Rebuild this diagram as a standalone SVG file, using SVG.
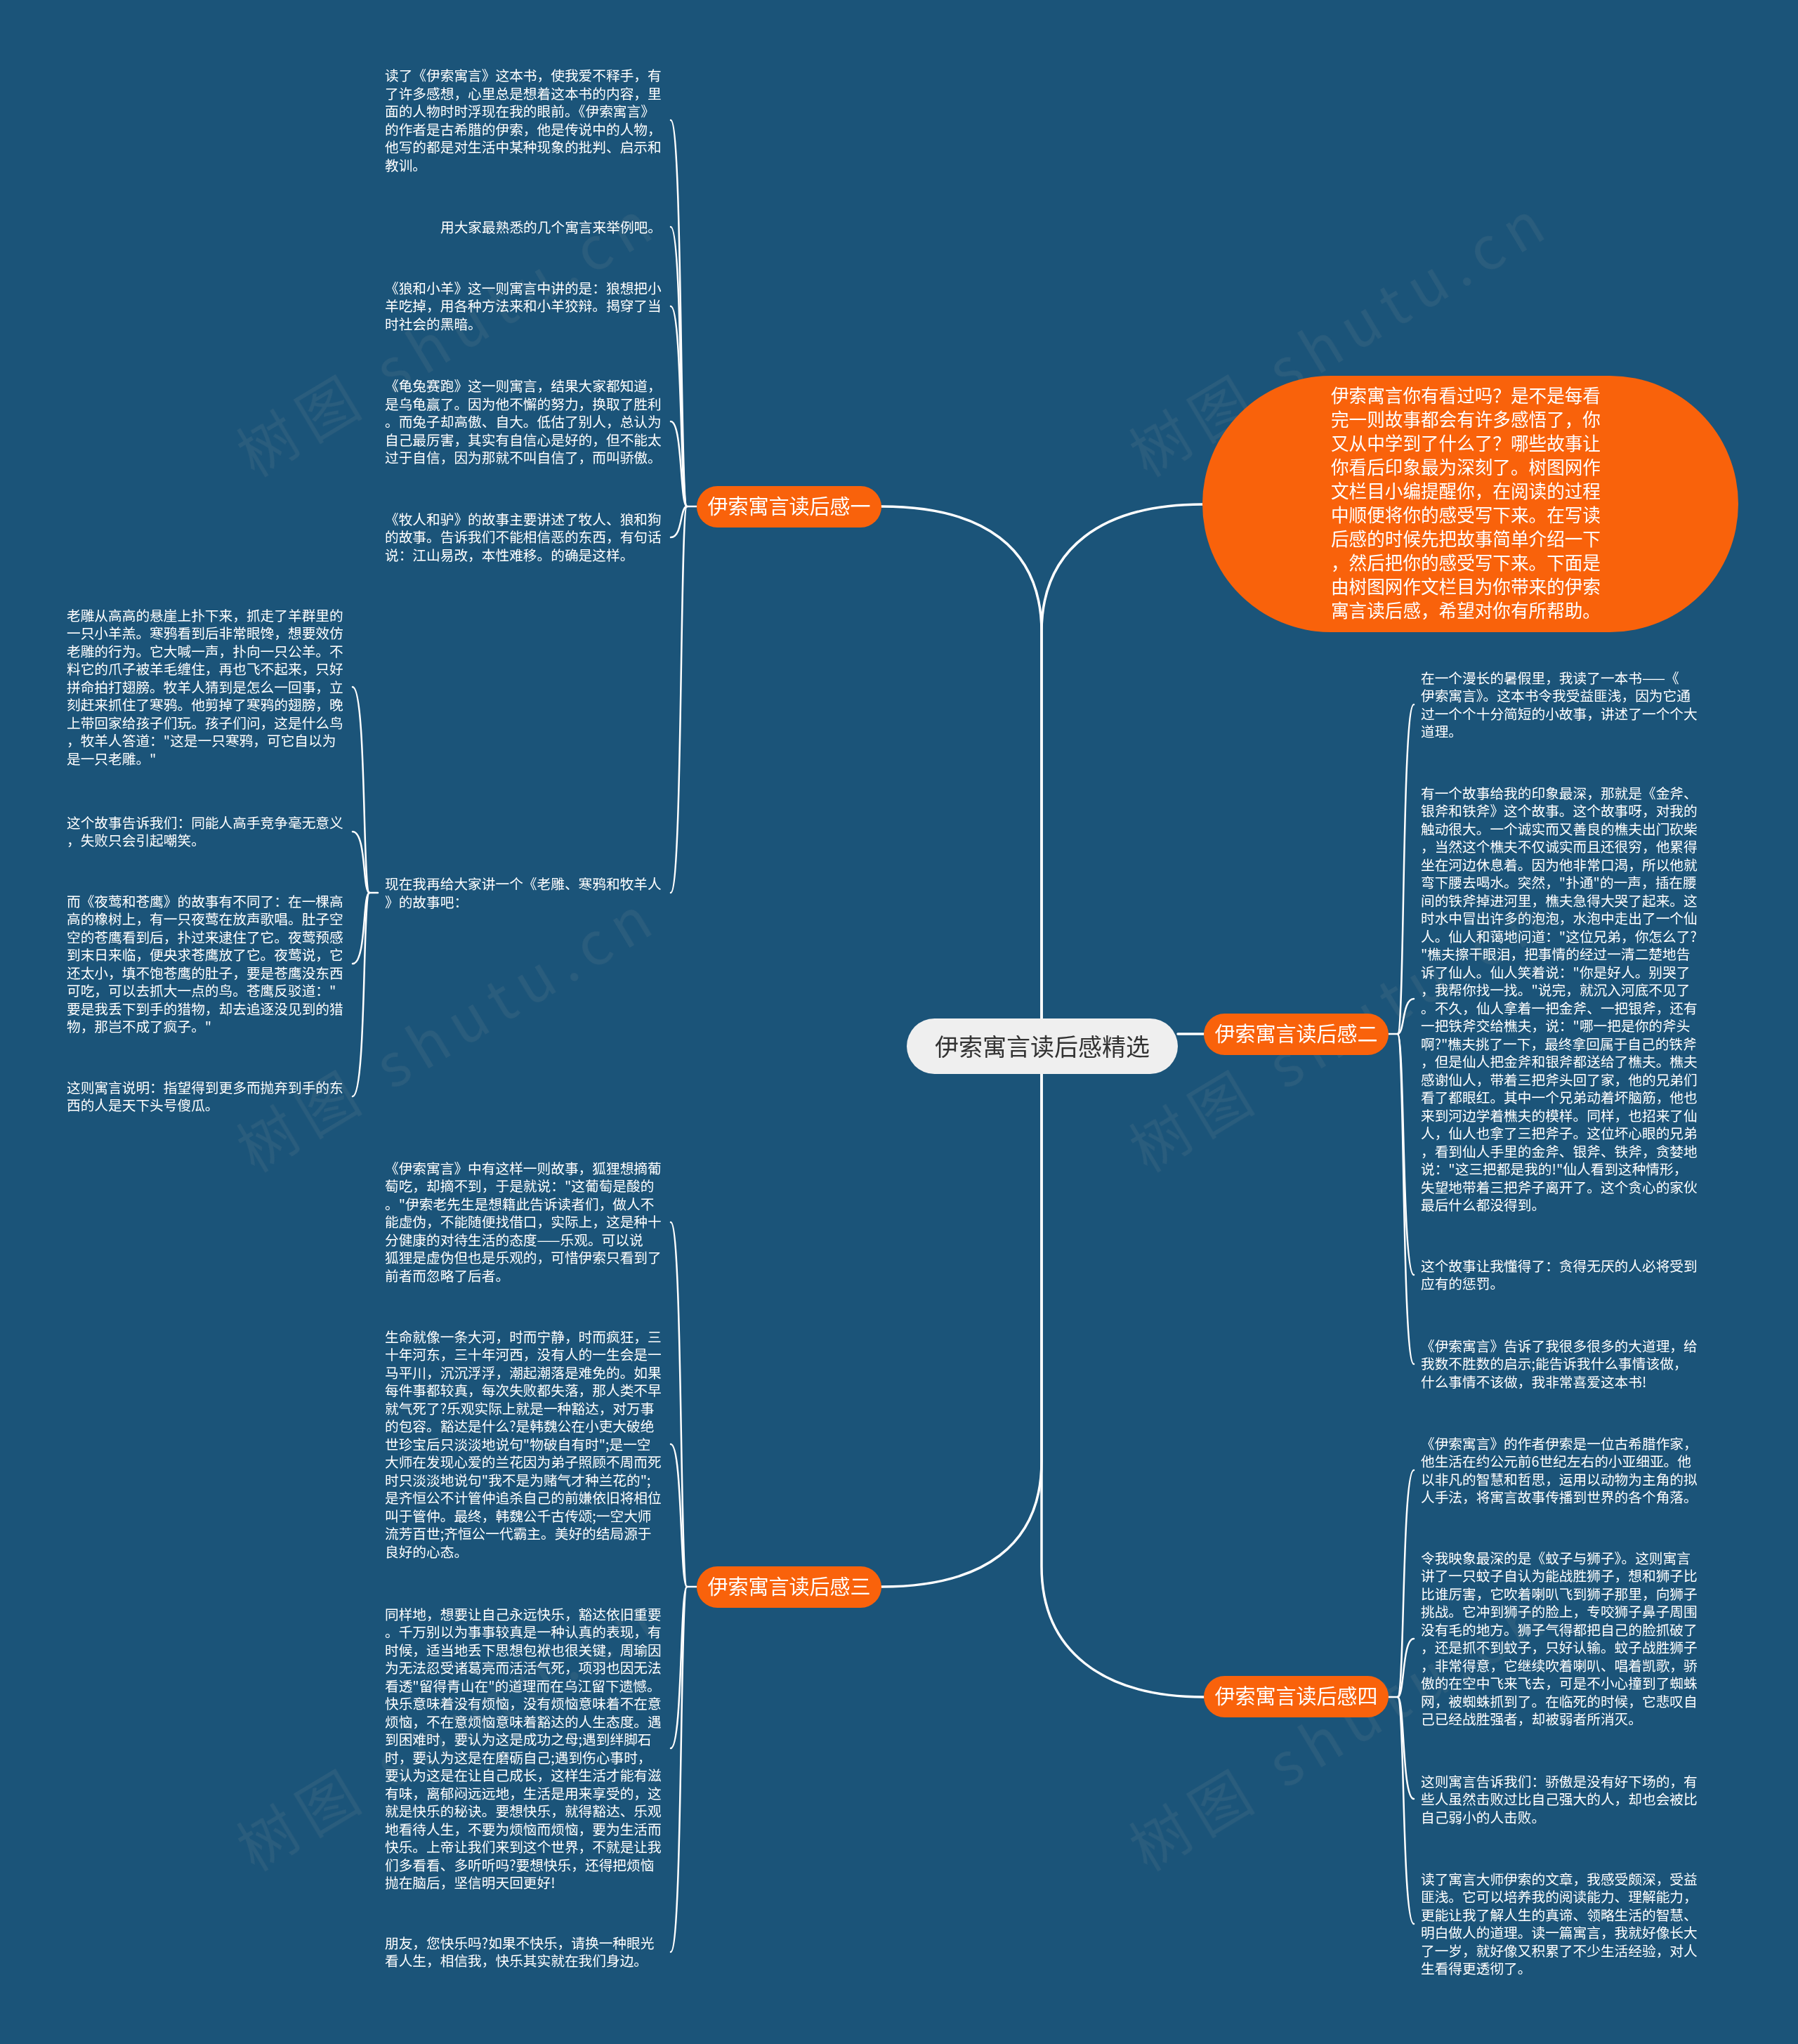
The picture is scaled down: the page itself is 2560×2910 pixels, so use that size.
<svg xmlns="http://www.w3.org/2000/svg" width="2560" height="2910" viewBox="0 0 2560 2910">
<style>
text{font-family:"Noto Sans CJK SC","Noto Sans",sans-serif;}
.t{font-size:19.7px;fill:#ffffff;}
.bt{font-size:29px;fill:#ffffff;text-anchor:middle;}
.ct{font-size:34px;fill:#333333;text-anchor:middle;}
.bub{font-size:25.6px;fill:#ffffff;}
.c{fill:none;stroke:#ffffff;stroke-width:2.5;stroke-linecap:round;}
.m{fill:none;stroke:#ffffff;stroke-width:3.5;stroke-linecap:round;}
.br{fill:#f9620b;}
.wm{font-family:"Noto Sans CJK SC","Liberation Serif",serif;font-size:84px;fill:#a0a0a0;letter-spacing:14px;text-anchor:middle;}
</style>
<rect x="0" y="0" width="2560" height="2910" fill="#1b5479"/>

<g id="watermark" opacity="0.12">
<text class="wm" transform="translate(654,505) rotate(-31)">树图 shutu.cn</text>
<text class="wm" transform="translate(1925,505) rotate(-31)">树图 shutu.cn</text>
<text class="wm" transform="translate(654,1495) rotate(-31)">树图 shutu.cn</text>
<text class="wm" transform="translate(1925,1495) rotate(-31)">树图 shutu.cn</text>
<text class="wm" transform="translate(654,2490) rotate(-31)">树图 shutu.cn</text>
<text class="wm" transform="translate(1925,2490) rotate(-31)">树图 shutu.cn</text>
</g>

<g id="connectors">
<path class="m" d="M1483 1450 L1483 900 C1483 780 1400 721 1255 721"/>
<path class="m" d="M1483 1450 L1483 900 C1483 780 1570 718 1712 718"/>
<path class="m" d="M1677 1472 L1714 1472"/>
<path class="m" d="M1483 1529 L1483 2080 C1483 2200 1400 2259 1255 2259"/>
<path class="m" d="M1483 1529 L1483 2230 C1483 2350 1570 2416 1714 2416"/>
<!-- branch 1 children -->
<path class="c" d="M992 721 L978 721"/>
<path class="c" d="M978 721 C968 721 972 171 955 171"/>
<path class="c" d="M978 721 C968 721 972 323 955 323"/>
<path class="c" d="M978 721 C968 721 972 436 955 436"/>
<path class="c" d="M978 721 C968 721 972 600 955 600"/>
<path class="c" d="M978 721 C968 721 972 765 955 765"/>
<path class="c" d="M978 721 C968 721 972 1271 955 1271"/>
<!-- 1f children -->
<path class="c" d="M538 1271 L526 1271"/>
<path class="c" d="M526 1271 C516 1271 522 978 502 978"/>
<path class="c" d="M526 1271 C516 1271 522 1184 502 1184"/>
<path class="c" d="M526 1271 C516 1271 522 1372 502 1372"/>
<path class="c" d="M526 1271 C516 1271 522 1561 502 1561"/>
<!-- branch 3 children -->
<path class="c" d="M992 2259 L978 2259"/>
<path class="c" d="M978 2259 C968 2259 972 1740 955 1740"/>
<path class="c" d="M978 2259 C968 2259 972 2056 955 2056"/>
<path class="c" d="M978 2259 C968 2259 972 2489 955 2489"/>
<path class="c" d="M978 2259 C968 2259 972 2779 955 2779"/>
<!-- branch 2 children -->
<path class="c" d="M1977 1472 L1990 1472"/>
<path class="c" d="M1990 1472 C2000 1472 1996 1003 2013 1003"/>
<path class="c" d="M1990 1472 C2000 1472 1996 1422 2013 1422"/>
<path class="c" d="M1990 1472 C2000 1472 1996 1815 2013 1815"/>
<path class="c" d="M1990 1472 C2000 1472 1996 1942 2013 1942"/>
<!-- branch 4 children -->
<path class="c" d="M1977 2416 L1990 2416"/>
<path class="c" d="M1990 2416 C2000 2416 1996 2093 2013 2093"/>
<path class="c" d="M1990 2416 C2000 2416 1996 2333 2013 2333"/>
<path class="c" d="M1990 2416 C2000 2416 1996 2561 2013 2561"/>
<path class="c" d="M1990 2416 C2000 2416 1996 2739 2013 2739"/>
</g>

<g id="center">
<rect x="1291" y="1450" width="386" height="79" rx="39.5" fill="#efefef"/>
<text class="ct" x="1484" y="1503">伊索寓言读后感精选</text>
</g>

<g id="intro">
<rect x="1712" y="535" width="763" height="365" rx="182.5" class="br"/>
<text class="bub" x="1895" y="572.7">伊索寓言你有看过吗？是不是每看<tspan x="1895" dy="34">完一则故事都会有许多感悟了，你</tspan><tspan x="1895" dy="34">又从中学到了什么了？哪些故事让</tspan><tspan x="1895" dy="34">你看后印象最为深刻了。树图网作</tspan><tspan x="1895" dy="34">文栏目小编提醒你，在阅读的过程</tspan><tspan x="1895" dy="34">中顺便将你的感受写下来。在写读</tspan><tspan x="1895" dy="34">后感的时候先把故事简单介绍一下</tspan><tspan x="1895" dy="34">，然后把你的感受写下来。下面是</tspan><tspan x="1895" dy="34">由树图网作文栏目为你带来的伊索</tspan><tspan x="1895" dy="34">寓言读后感，希望对你有所帮助。</tspan></text>
</g>

<g id="branch1">
<rect x="992" y="692" width="263" height="59" rx="29.5" class="br"/>
<text class="bt" x="1123.5" y="732">伊索寓言读后感一</text>
</g>
<g id="branch2">
<rect x="1714" y="1443" width="263" height="59" rx="29.5" class="br"/>
<text class="bt" x="1845.5" y="1483">伊索寓言读后感二</text>
</g>
<g id="branch3">
<rect x="992" y="2230" width="263" height="59" rx="29.5" class="br"/>
<text class="bt" x="1123.5" y="2270">伊索寓言读后感三</text>
</g>
<g id="branch4">
<rect x="1714" y="2386" width="263" height="59" rx="29.5" class="br"/>
<text class="bt" x="1845.5" y="2426">伊索寓言读后感四</text>
</g>

<g id="n1a"><text class="t" x="548" y="115.2">读了《伊索寓言》这本书，使我爱不释手，有<tspan x="548" dy="25.5">了许多感想，心里总是想着这本书的内容，里</tspan><tspan x="548" dy="25.5">面的人物时时浮现在我的眼前。《伊索寓言》</tspan><tspan x="548" dy="25.5">的作者是古希腊的伊索，他是传说中的人物，</tspan><tspan x="548" dy="25.5">他写的都是对生活中某种现象的批判、启示和</tspan><tspan x="548" dy="25.5">教训。</tspan></text></g>
<g id="n1b"><text class="t" x="627" y="330.5">用大家最熟悉的几个寓言来举例吧。</text></g>
<g id="n1c"><text class="t" x="548" y="417.5">《狼和小羊》这一则寓言中讲的是：狼想把小<tspan x="548" dy="25.5">羊吃掉，用各种方法来和小羊狡辩。揭穿了当</tspan><tspan x="548" dy="25.5">时社会的黑暗。</tspan></text></g>
<g id="n1d"><text class="t" x="548" y="557">《龟兔赛跑》这一则寓言，结果大家都知道，<tspan x="548" dy="25.5">是乌龟赢了。因为他不懈的努力，换取了胜利</tspan><tspan x="548" dy="25.5">。而兔子却高傲、自大。低估了别人，总认为</tspan><tspan x="548" dy="25.5">自己最厉害，其实有自信心是好的，但不能太</tspan><tspan x="548" dy="25.5">过于自信，因为那就不叫自信了，而叫骄傲。</tspan></text></g>
<g id="n1e"><text class="t" x="548" y="746.5">《牧人和驴》的故事主要讲述了牧人、狼和狗<tspan x="548" dy="25.5">的故事。告诉我们不能相信恶的东西，有句话</tspan><tspan x="548" dy="25.5">说：江山易改，本性难移。的确是这样。</tspan></text></g>
<g id="n1f"><text class="t" x="548" y="1266">现在我再给大家讲一个《老雕、寒鸦和牧羊人<tspan x="548" dy="25.5">》的故事吧：</tspan></text></g>

<g id="n1f1"><text class="t" x="95" y="883.5">老雕从高高的悬崖上扑下来，抓走了羊群里的<tspan x="95" dy="25.5">一只小羊羔。寒鸦看到后非常眼馋，想要效仿</tspan><tspan x="95" dy="25.5">老雕的行为。它大喊一声，扑向一只公羊。不</tspan><tspan x="95" dy="25.5">料它的爪子被羊毛缠住，再也飞不起来，只好</tspan><tspan x="95" dy="25.5">拼命拍打翅膀。牧羊人猜到是怎么一回事，立</tspan><tspan x="95" dy="25.5">刻赶来抓住了寒鸦。他剪掉了寒鸦的翅膀，晚</tspan><tspan x="95" dy="25.5">上带回家给孩子们玩。孩子们问，这是什么鸟</tspan><tspan x="95" dy="25.5">，牧羊人答道："这是一只寒鸦，可它自以为</tspan><tspan x="95" dy="25.5">是一只老雕。"</tspan></text></g>
<g id="n1f2"><text class="t" x="95" y="1178.5">这个故事告诉我们：同能人高手竞争毫无意义<tspan x="95" dy="25.5">，失败只会引起嘲笑。</tspan></text></g>
<g id="n1f3"><text class="t" x="95" y="1290.5">而《夜莺和苍鹰》的故事有不同了：在一棵高<tspan x="95" dy="25.5">高的橡树上，有一只夜莺在放声歌唱。肚子空</tspan><tspan x="95" dy="25.5">空的苍鹰看到后，扑过来逮住了它。夜莺预感</tspan><tspan x="95" dy="25.5">到末日来临，便央求苍鹰放了它。夜莺说，它</tspan><tspan x="95" dy="25.5">还太小，填不饱苍鹰的肚子，要是苍鹰没东西</tspan><tspan x="95" dy="25.5">可吃，可以去抓大一点的鸟。苍鹰反驳道："</tspan><tspan x="95" dy="25.5">要是我丢下到手的猎物，却去追逐没见到的猎</tspan><tspan x="95" dy="25.5">物，那岂不成了疯子。"</tspan></text></g>
<g id="n1f4"><text class="t" x="95" y="1555.5">这则寓言说明：指望得到更多而抛弃到手的东<tspan x="95" dy="25.5">西的人是天下头号傻瓜。</tspan></text></g>

<g id="n3a"><text class="t" x="548" y="1670.5">《伊索寓言》中有这样一则故事，狐狸想摘葡<tspan x="548" dy="25.5">萄吃，却摘不到，于是就说："这葡萄是酸的</tspan><tspan x="548" dy="25.5">。"伊索老先生是想籍此告诉读者们，做人不</tspan><tspan x="548" dy="25.5">能虚伪，不能随便找借口，实际上，这是种十</tspan><tspan x="548" dy="25.5">分健康的对待生活的态度——乐观。可以说</tspan><tspan x="548" dy="25.5">狐狸是虚伪但也是乐观的，可惜伊索只看到了</tspan><tspan x="548" dy="25.5">前者而忽略了后者。</tspan></text></g>
<g id="n3b"><text class="t" x="548" y="1910.5">生命就像一条大河，时而宁静，时而疯狂，三<tspan x="548" dy="25.5">十年河东，三十年河西，没有人的一生会是一</tspan><tspan x="548" dy="25.5">马平川，沉沉浮浮，潮起潮落是难免的。如果</tspan><tspan x="548" dy="25.5">每件事都较真，每次失败都失落，那人类不早</tspan><tspan x="548" dy="25.5">就气死了?乐观实际上就是一种豁达，对万事</tspan><tspan x="548" dy="25.5">的包容。豁达是什么?是韩魏公在小吏大破绝</tspan><tspan x="548" dy="25.5">世珍宝后只淡淡地说句"物破自有时";是一空</tspan><tspan x="548" dy="25.5">大师在发现心爱的兰花因为弟子照顾不周而死</tspan><tspan x="548" dy="25.5">时只淡淡地说句"我不是为赌气才种兰花的";</tspan><tspan x="548" dy="25.5">是齐恒公不计管仲追杀自己的前嫌依旧将相位</tspan><tspan x="548" dy="25.5">叫于管仲。最终，韩魏公千古传颂;一空大师</tspan><tspan x="548" dy="25.5">流芳百世;齐恒公一代霸主。美好的结局源于</tspan><tspan x="548" dy="25.5">良好的心态。</tspan></text></g>
<g id="n3c"><text class="t" x="548" y="2305.5">同样地，想要让自己永远快乐，豁达依旧重要<tspan x="548" dy="25.5">。千万别以为事事较真是一种认真的表现，有</tspan><tspan x="548" dy="25.5">时候，适当地丢下思想包袱也很关键，周瑜因</tspan><tspan x="548" dy="25.5">为无法忍受诸葛亮而活活气死，项羽也因无法</tspan><tspan x="548" dy="25.5">看透"留得青山在"的道理而在乌江留下遗憾。</tspan><tspan x="548" dy="25.5">快乐意味着没有烦恼，没有烦恼意味着不在意</tspan><tspan x="548" dy="25.5">烦恼，不在意烦恼意味着豁达的人生态度。遇</tspan><tspan x="548" dy="25.5">到困难时，要认为这是成功之母;遇到绊脚石</tspan><tspan x="548" dy="25.5">时，要认为这是在磨砺自己;遇到伤心事时，</tspan><tspan x="548" dy="25.5">要认为这是在让自己成长，这样生活才能有滋</tspan><tspan x="548" dy="25.5">有味，离郁闷远远地，生活是用来享受的，这</tspan><tspan x="548" dy="25.5">就是快乐的秘诀。要想快乐，就得豁达、乐观</tspan><tspan x="548" dy="25.5">地看待人生，不要为烦恼而烦恼，要为生活而</tspan><tspan x="548" dy="25.5">快乐。上帝让我们来到这个世界，不就是让我</tspan><tspan x="548" dy="25.5">们多看看、多听听吗?要想快乐，还得把烦恼</tspan><tspan x="548" dy="25.5">抛在脑后，坚信明天回更好!</tspan></text></g>
<g id="n3d"><text class="t" x="548" y="2773.5">朋友，您快乐吗?如果不快乐，请换一种眼光<tspan x="548" dy="25.5">看人生，相信我，快乐其实就在我们身边。</tspan></text></g>

<g id="n2a"><text class="t" x="2023" y="972.5">在一个漫长的暑假里，我读了一本书——《<tspan x="2023" dy="25.5">伊索寓言》。这本书令我受益匪浅，因为它通</tspan><tspan x="2023" dy="25.5">过一个个十分简短的小故事，讲述了一个个大</tspan><tspan x="2023" dy="25.5">道理。</tspan></text></g>
<g id="n2b"><text class="t" x="2023" y="1136.5">有一个故事给我的印象最深，那就是《金斧、<tspan x="2023" dy="25.5">银斧和铁斧》这个故事。这个故事呀，对我的</tspan><tspan x="2023" dy="25.5">触动很大。一个诚实而又善良的樵夫出门砍柴</tspan><tspan x="2023" dy="25.5">，当然这个樵夫不仅诚实而且还很穷，他累得</tspan><tspan x="2023" dy="25.5">坐在河边休息着。因为他非常口渴，所以他就</tspan><tspan x="2023" dy="25.5">弯下腰去喝水。突然，"扑通"的一声，插在腰</tspan><tspan x="2023" dy="25.5">间的铁斧掉进河里，樵夫急得大哭了起来。这</tspan><tspan x="2023" dy="25.5">时水中冒出许多的泡泡，水泡中走出了一个仙</tspan><tspan x="2023" dy="25.5">人。仙人和蔼地问道："这位兄弟，你怎么了?</tspan><tspan x="2023" dy="25.5">"樵夫擦干眼泪，把事情的经过一清二楚地告</tspan><tspan x="2023" dy="25.5">诉了仙人。仙人笑着说："你是好人。别哭了</tspan><tspan x="2023" dy="25.5">，我帮你找一找。"说完，就沉入河底不见了</tspan><tspan x="2023" dy="25.5">。不久，仙人拿着一把金斧、一把银斧，还有</tspan><tspan x="2023" dy="25.5">一把铁斧交给樵夫，说："哪一把是你的斧头</tspan><tspan x="2023" dy="25.5">啊?"樵夫挑了一下，最终拿回属于自己的铁斧</tspan><tspan x="2023" dy="25.5">，但是仙人把金斧和银斧都送给了樵夫。樵夫</tspan><tspan x="2023" dy="25.5">感谢仙人，带着三把斧头回了家，他的兄弟们</tspan><tspan x="2023" dy="25.5">看了都眼红。其中一个兄弟动着坏脑筋，他也</tspan><tspan x="2023" dy="25.5">来到河边学着樵夫的模样。同样，也招来了仙</tspan><tspan x="2023" dy="25.5">人，仙人也拿了三把斧子。这位坏心眼的兄弟</tspan><tspan x="2023" dy="25.5">，看到仙人手里的金斧、银斧、铁斧，贪婪地</tspan><tspan x="2023" dy="25.5">说："这三把都是我的!"仙人看到这种情形，</tspan><tspan x="2023" dy="25.5">失望地带着三把斧子离开了。这个贪心的家伙</tspan><tspan x="2023" dy="25.5">最后什么都没得到。</tspan></text></g>
<g id="n2c"><text class="t" x="2023" y="1809.5">这个故事让我懂得了：贪得无厌的人必将受到<tspan x="2023" dy="25.5">应有的惩罚。</tspan></text></g>
<g id="n2d"><text class="t" x="2023" y="1923.5">《伊索寓言》告诉了我很多很多的大道理，给<tspan x="2023" dy="25.5">我数不胜数的启示;能告诉我什么事情该做，</tspan><tspan x="2023" dy="25.5">什么事情不该做，我非常喜爱这本书!</tspan></text></g>

<g id="n4a"><text class="t" x="2023" y="2062.5">《伊索寓言》的作者伊索是一位古希腊作家，<tspan x="2023" dy="25.5">他生活在约公元前6世纪左右的小亚细亚。他</tspan><tspan x="2023" dy="25.5">以非凡的智慧和哲思，运用以动物为主角的拟</tspan><tspan x="2023" dy="25.5">人手法，将寓言故事传播到世界的各个角落。</tspan></text></g>
<g id="n4b"><text class="t" x="2023" y="2225.5">令我映象最深的是《蚊子与狮子》。这则寓言<tspan x="2023" dy="25.5">讲了一只蚊子自认为能战胜狮子，想和狮子比</tspan><tspan x="2023" dy="25.5">比谁厉害，它吹着喇叭飞到狮子那里，向狮子</tspan><tspan x="2023" dy="25.5">挑战。它冲到狮子的脸上，专咬狮子鼻子周围</tspan><tspan x="2023" dy="25.5">没有毛的地方。狮子气得都把自己的脸抓破了</tspan><tspan x="2023" dy="25.5">，还是抓不到蚊子，只好认输。蚊子战胜狮子</tspan><tspan x="2023" dy="25.5">，非常得意，它继续吹着喇叭、唱着凯歌，骄</tspan><tspan x="2023" dy="25.5">傲的在空中飞来飞去，可是不小心撞到了蜘蛛</tspan><tspan x="2023" dy="25.5">网，被蜘蛛抓到了。在临死的时候，它悲叹自</tspan><tspan x="2023" dy="25.5">己已经战胜强者，却被弱者所消灭。</tspan></text></g>
<g id="n4c"><text class="t" x="2023" y="2543.5">这则寓言告诉我们：骄傲是没有好下场的，有<tspan x="2023" dy="25.5">些人虽然击败过比自己强大的人，却也会被比</tspan><tspan x="2023" dy="25.5">自己弱小的人击败。</tspan></text></g>
<g id="n4d"><text class="t" x="2023" y="2682.5">读了寓言大师伊索的文章，我感受颇深，受益<tspan x="2023" dy="25.5">匪浅。它可以培养我的阅读能力、理解能力，</tspan><tspan x="2023" dy="25.5">更能让我了解人生的真谛、领略生活的智慧、</tspan><tspan x="2023" dy="25.5">明白做人的道理。读一篇寓言，我就好像长大</tspan><tspan x="2023" dy="25.5">了一岁，就好像又积累了不少生活经验，对人</tspan><tspan x="2023" dy="25.5">生看得更透彻了。</tspan></text></g>
</svg>
